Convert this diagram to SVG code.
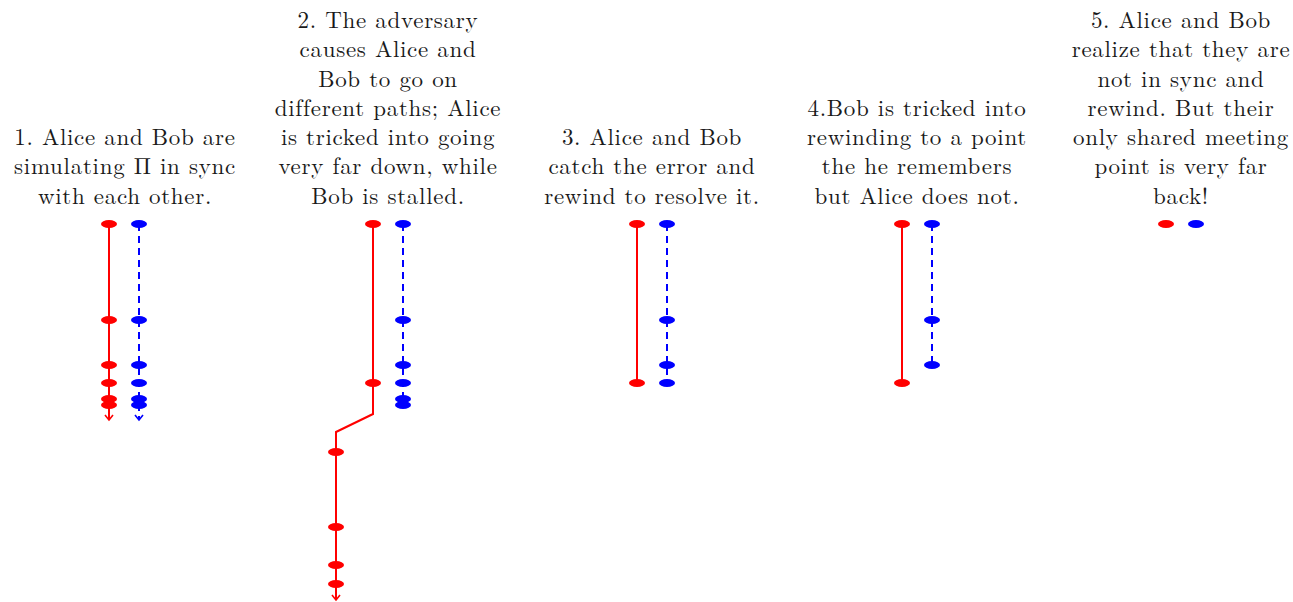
<svg xmlns="http://www.w3.org/2000/svg" width="1293" height="602" viewBox="0 0 1293 602">
<style>
text{font-family:"Latin Modern Roman","Liberation Serif",serif;font-size:23px;letter-spacing:0.7px;fill:#1a1a1a;text-anchor:middle}
.r{stroke:#f00;stroke-width:2;fill:none}
.b{stroke:#00f;stroke-width:2;fill:none;stroke-dasharray:7,5}
.rd{fill:#f00}
.bd{fill:#00f}
.ra{stroke:#f00;stroke-width:1.6;fill:none}
.ba{stroke:#00f;stroke-width:1.6;fill:none}
</style>
<defs>
<ellipse id="rdot" rx="8" ry="4" class="rd"/>
<ellipse id="bdot" rx="8" ry="4" class="bd"/>
</defs>
<g id="labels">
<g id="label1"><text x="125" y="145">1. Alice and Bob are</text><text x="125" y="174">simulating Π in sync</text><text x="125" y="204">with each other.</text></g>
<g id="label2"><text x="388" y="28">2. The adversary</text><text x="388" y="57">causes Alice and</text><text x="388" y="87">Bob to go on</text><text x="388" y="116">different paths; Alice</text><text x="388" y="145">is tricked into going</text><text x="388" y="174">very far down, while</text><text x="388" y="204">Bob is stalled.</text></g>
<g id="label3"><text x="652" y="145">3. Alice and Bob</text><text x="652" y="174">catch the error and</text><text x="652" y="204">rewind to resolve it.</text></g>
<g id="label4"><text x="917" y="116">4.Bob is tricked into</text><text x="917" y="145">rewinding to a point</text><text x="917" y="174">the he remembers</text><text x="917" y="204">but Alice does not.</text></g>
<g id="label5"><text x="1181" y="28">5. Alice and Bob</text><text x="1181" y="57">realize that they are</text><text x="1181" y="87">not in sync and</text><text x="1181" y="116">rewind. But their</text><text x="1181" y="145">only shared meeting</text><text x="1181" y="174">point is very far</text><text x="1181" y="204">back!</text></g>
</g>
<g id="connectors">
<path class="r" d="M109 224V419"/><path class="ra" d="M105 415L109 420L113 415"/>
<path class="b" d="M139 224V419"/><path class="ba" d="M135 415L139 420L143 415"/>
<path class="r" d="M373 224V414L336 432V599"/><path class="ra" d="M332 595L336 600L340 595"/>
<path class="b" d="M403 224V405"/>
<path class="r" d="M637 224V383"/>
<path class="b" d="M667 224V383"/>
<path class="r" d="M902 224V383"/>
<path class="b" d="M932 224V365"/>
</g>
<g id="panel1">
<use href="#rdot" x="109" y="224"/><use href="#rdot" x="109" y="320"/><use href="#rdot" x="109" y="365"/><use href="#rdot" x="109" y="383"/><use href="#rdot" x="109" y="399"/><use href="#rdot" x="109" y="405"/>
<use href="#bdot" x="139" y="224"/><use href="#bdot" x="139" y="320"/><use href="#bdot" x="139" y="365"/><use href="#bdot" x="139" y="383"/><use href="#bdot" x="139" y="399"/><use href="#bdot" x="139" y="405"/>
</g>
<g id="panel2">
<use href="#rdot" x="373" y="224"/><use href="#rdot" x="373" y="383"/><use href="#rdot" x="336" y="452"/><use href="#rdot" x="336" y="527"/><use href="#rdot" x="336" y="565"/><use href="#rdot" x="336" y="584"/>
<use href="#bdot" x="403" y="224"/><use href="#bdot" x="403" y="320"/><use href="#bdot" x="403" y="365"/><use href="#bdot" x="403" y="383"/><use href="#bdot" x="403" y="399"/><use href="#bdot" x="403" y="405"/>
</g>
<g id="panel3">
<use href="#rdot" x="637" y="224"/><use href="#rdot" x="637" y="383"/>
<use href="#bdot" x="667" y="224"/><use href="#bdot" x="667" y="320"/><use href="#bdot" x="667" y="365"/><use href="#bdot" x="667" y="383"/>
</g>
<g id="panel4">
<use href="#rdot" x="902" y="224"/><use href="#rdot" x="902" y="383"/>
<use href="#bdot" x="932" y="224"/><use href="#bdot" x="932" y="320"/><use href="#bdot" x="932" y="365"/>
</g>
<g id="panel5">
<use href="#rdot" x="1166" y="224"/>
<use href="#bdot" x="1196" y="224"/>
</g>
</svg>
